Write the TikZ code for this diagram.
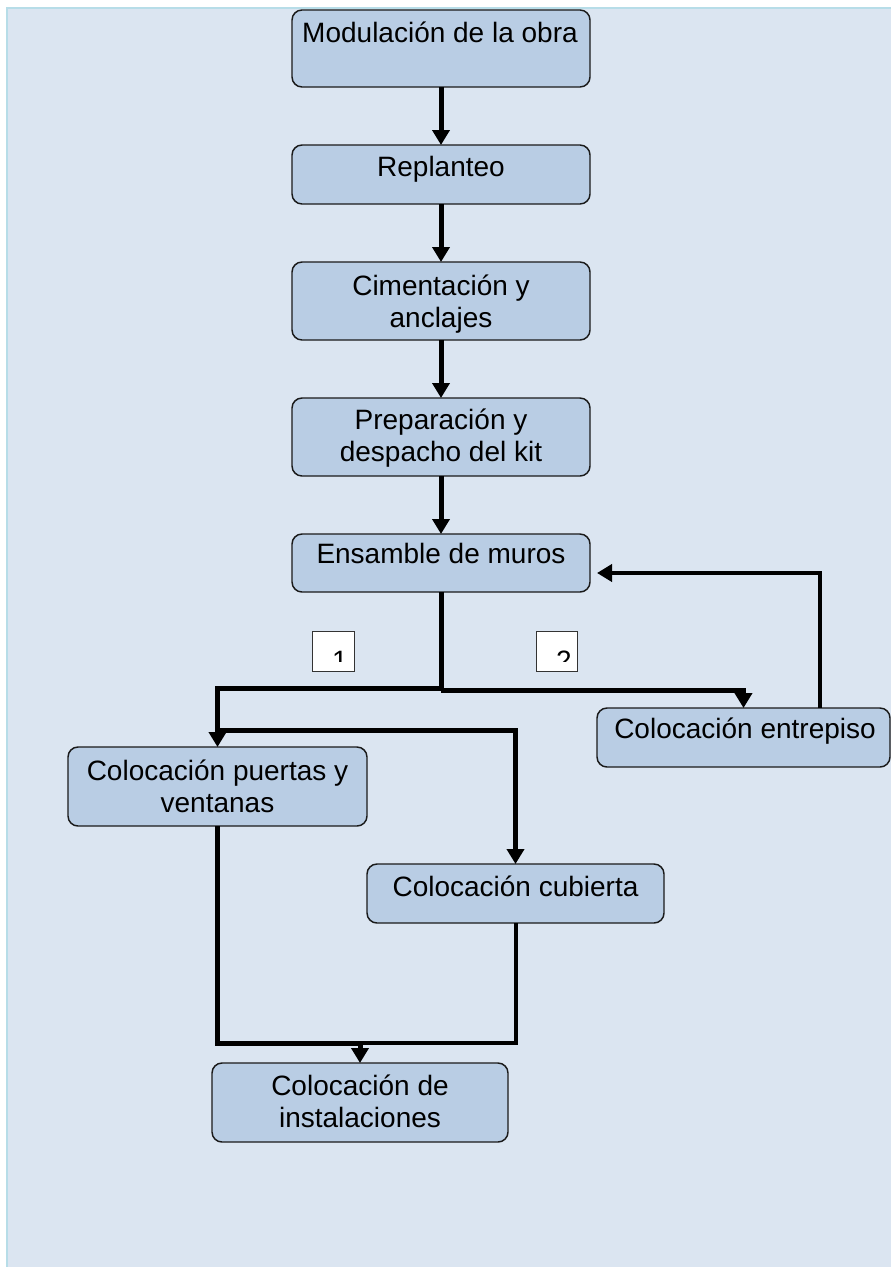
\documentclass[tikz,border=0pt]{standalone}
\usepackage{fontspec}
\setmainfont{Liberation Sans}
\usetikzlibrary{arrows.meta,calc}
\newdimen\pxu \pxu=0.75pt
\definecolor{bgfill}{HTML}{DBE5F1}
\definecolor{bgline}{HTML}{B7DDE8}
\definecolor{boxfill}{HTML}{B9CDE4}
\definecolor{boxline}{HTML}{1A1A1A}
\tikzset{
  box/.style={draw=boxline, fill=boxfill, line width=1.1pt, rounded corners=7.5pt,
    inner sep=0pt, outer sep=0pt},
  txt/.style={font=\fontsize{21}{24}\selectfont, inner sep=0pt, outer sep=0pt, anchor=base, align=center},
  conn/.style={line width=3.75pt, -{Triangle[width=12.75pt,length=11.25pt]}},
  conntwo/.style={line width=3pt, -{Triangle[width=12.75pt,length=11.25pt]}},
  plain/.style={line width=3.75pt},
  plaintwo/.style={line width=3pt},
  labbox/.style={draw=black!80, fill=white, line width=0.75pt, inner sep=0pt, outer sep=0pt},
}
\begin{document}
\begin{tikzpicture}[x=0.75pt, y=-0.75pt]
\useasboundingbox (0,0) rectangle (891,1267);
% background
\fill[bgfill] (7,8) rectangle (891,1267);
\draw[bgline, line width=1.5pt] (7,1267) -- (7,8) -- (891,8);

% boxes
\node[box, minimum width=298\pxu, minimum height=77\pxu] (mod) at (441,48.5) {};
\node[txt] (modt) at (440,42) {Modulación de la obra};

\node[box, minimum width=298\pxu, minimum height=59\pxu] (rep) at (441,174.5) {};
\node[txt] (rept) at (441,176) {Replanteo};

\node[box, minimum width=298\pxu, minimum height=78\pxu] (cim) at (441,301) {};
\node[txt] (cimt) at (441,327) {Cimentación y\\anclajes};

\node[box, minimum width=298\pxu, minimum height=78\pxu] (prep) at (441,437) {};
\node[txt] (prept) at (441,461) {Preparación y\\despacho del kit};

\node[box, minimum width=298\pxu, minimum height=58\pxu] (ens) at (441,563) {};
\node[txt] (enst) at (441,563) {Ensamble de muros};

\node[box, minimum width=293\pxu, minimum height=59\pxu] (ent) at (743.5,737.5) {};
\node[txt] (entt) at (745,738) {Colocación entrepiso};

\node[box, minimum width=299\pxu, minimum height=79\pxu] (pue) at (217.5,786.5) {};
\node[txt] (puet) at (217.5,812) {Colocación puertas y\\ventanas};

\node[box, minimum width=297\pxu, minimum height=59\pxu] (cub) at (515.5,893.5) {};
\node[txt] (cubt) at (515.5,896) {Colocación cubierta};

\node[box, minimum width=296\pxu, minimum height=79\pxu] (ins) at (360,1102.5) {};
\node[txt] (inst) at (360,1127) {Colocación de\\instalaciones};

% label boxes
\node[labbox, minimum width=42\pxu, minimum height=40\pxu] (l1) at (333,651) {};
\begin{scope}
  \clip (313,632) rectangle (353,661);
  \node[txt] (l1t) at (340,670) {1};
\end{scope}
\node[labbox, minimum width=41\pxu, minimum height=40\pxu] (l2) at (556.5,651) {};
\begin{scope}
  \clip (537,632) rectangle (576,661);
  \node[txt] (l2t) at (564,670) {2};
\end{scope}

% connectors main column
\draw[conn] (mod.south) -- (rep.north);
\draw[conn] (rep.south) -- (cim.north);
\draw[conn] (cim.south) -- (prep.north);
\draw[conn] (prep.south) -- (ens.north);

% branches
\coordinate (j) at (441,688);
\coordinate (jr) at (441,690);
\draw[plain] (ens.south) -- (jr);
\draw[conn] ([xshift=1.5pt]j) -| (pue.north);
\draw[conn] (jr) -| (ent.north);
\coordinate (k) at (217.5,730);
\draw[conn] (k) -| (cub.north);

% return from entrepiso
\coordinate (r) at (820,0);
\draw[conntwo] (ent.north -| r) |- ($(ens.east)+(7,10)$);

% to instalaciones
\coordinate (m) at (360,1043);
\draw[plaintwo] (cub.south) |- (m);
\draw[conn] (pue.south) |- (m) -- (ins.north);
\end{tikzpicture}
\end{document}
